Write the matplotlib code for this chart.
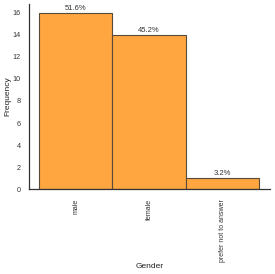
import matplotlib
matplotlib.use("Agg")
import matplotlib.pyplot as plt

plt.rcParams["font.family"] = ["Liberation Sans", "DejaVu Sans"]

categories = ["male", "female", "prefer not to answer"]
counts = [16, 14, 1]
pct_labels = ["51.6%", "45.2%", "3.2%"]

fig = plt.figure(figsize=(2.75, 2.74), dpi=100)
ax = fig.add_axes([0.1055, 0.310, 0.8765, 0.675])
x = list(range(len(categories)))
bars = ax.bar(x, counts, width=1.0, color="#FFA640", edgecolor="#5a4a3a", linewidth=0.8)
for xi, c, lab in zip(x, counts, pct_labels):
    ax.text(xi, c + 0.12, lab, ha="center", va="bottom", fontsize=5.5, color="#333333")
ax.set_xlim(-0.636, 2.65)
ax.set_ylim(0, 16.8)
ax.set_yticks([0, 2, 4, 6, 8, 10, 12, 14, 16])
ax.set_xticks(x)
ax.set_xticklabels(categories, rotation=90, fontsize=5, color="#333333")
ax.tick_params(axis="y", labelsize=5.2, colors="#333333", length=0, pad=6)
ax.tick_params(axis="x", length=0, pad=7)
for s in ["top", "right"]:
    ax.spines[s].set_visible(False)
for s in ["left", "bottom"]:
    ax.spines[s].set_color("#333333")
    ax.spines[s].set_linewidth(0.9)
fig.text(8.3 / 275, 1 - 96.5 / 274, "Frequency", rotation=90, ha="center", va="center",
         fontsize=6, color="#222222")
fig.text(149.5 / 275, 1 - 266.5 / 274, "Gender", ha="center", va="center",
         fontsize=6, color="#222222")
fig.savefig("out.png", dpi=100)
